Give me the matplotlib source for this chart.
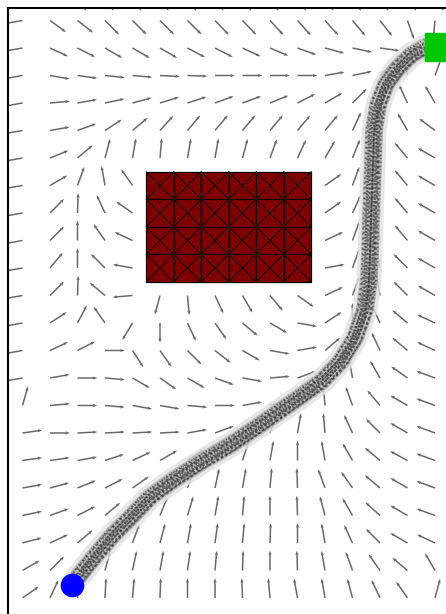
import numpy as np
import matplotlib
matplotlib.use('Agg')
import matplotlib.pyplot as plt
from matplotlib.patches import Rectangle
from matplotlib.transforms import offset_copy

# grid of the potential field (columns left->right, rows top->bottom, row -1 is clipped by the top spine)
col_idx = np.arange(16)
row_idx = np.arange(-1, 22)

# direction of each field arrow in degrees (0 = right, 90 = up), None = cell under the obstacle
field_angles = [
    [180, -40, -65, -65, -65, -65, -65, -65, -65, -65, -65, -65, -65, -65, -65, -65],
    [190, -36, -38, -45, -45, -45, -45, -46, -46, -47, -48, -48, -50, -52, -71, -95],
    [190, -25, -27, -30, -30, -30, -28, -27, -25, -23, -20, -15, -12, -8, 0, 0],
    [190, -10, -8, -6, -5, -3, -2, 0, 0, 0, 0, 10, 12, 45, 100, 70],
    [190, 5, 10, 12, 15, 17, 18, 20, 20, 22, 27, 30, 45, 80, 115, 120],
    [190, 10, 20, 33, 40, 48, 50, 50, 50, 50, 50, 50, 65, 100, 120, 143],
    [190, 22, 40, 75, 80, 85, 80, 80, 75, 70, 65, 60, 68, 100, 130, 150],
    [190, 30, 70, 100, 125, None, None, None, None, None, None, 35, 70, 100, 130, 150],
    [190, 45, 88, 115, 145, None, None, None, None, None, None, 35, 65, 100, 130, 150],
    [190, 45, 90, 125, 155, None, None, None, None, None, None, 25, 70, 100, 130, 150],
    [190, 50, 90, 135, 170, None, None, None, None, None, None, 10, 70, 100, 135, 150],
    [190, 45, 88, 140, 185, -105, -85, -65, -60, -50, -35, 25, 70, 100, 135, 150],
    [190, 33, 62, 125, 239, -90, -65, -55, -40, -30, -10, 33, 90, 115, 140, 155],
    [190, 25, 27, 0, -57, -55, -45, -38, -30, -10, 10, 40, 100, 115, 140, 155],
    [190, 10, 0, -5, -30, -35, -30, -20, -10, 5, 20, 60, 100, 120, 145, 160],
    [74, 5, 0, -5, -10, -10, -5, 0, 10, 20, 40, 95, 110, 130, 150, 160],
    [8, 0, 3, 3, 3, 3, 10, 20, 40, 70, 80, 95, 115, 135, 150, 160],
    [8, 8, 10, 18, 25, 30, 35, 50, 72, 80, 90, 100, 120, 140, 152, 160],
    [10, 15, 22, 27, 35, 50, 70, 78, 80, 85, 92, 110, 125, 140, 150, 160],
    [12, 20, 27, 40, 55, 68, 73, 80, 85, 90, 92, 105, 120, 138, 150, 160],
    [15, 25, 40, 55, 70, 75, 80, 82, 85, 88, 90, 100, 115, 135, 150, 155],
    [30, 45, 60, 75, 78, 80, 82, 85, 88, 90, 92, 100, 110, 125, 140, 120],
    [35, 65, 85, 87, 85, 88, 90, 90, 92, 95, 100, 100, 105, 115, 125, 75],
]

# obstacle cells
obstacle_cols = [5, 6, 7, 8, 9, 10]
obstacle_rows = [6, 7, 8, 9]

# planned path (grid units)
path_x = [2.02, 2.64, 3.25, 3.91, 4.64, 5.55, 6.56, 7.55, 8.53, 9.36, 10.09, 10.89, 11.55,
          12.09, 12.45, 12.60, 12.64, 12.67, 12.71, 12.75, 12.78, 12.93, 13.22, 13.65, 14.13, 14.64]
path_y = [20.24, 19.47, 18.75, 18.09, 17.33, 16.67, 16.02, 15.44, 14.78, 14.20, 13.69, 13.11, 12.42,
          11.55, 10.53, 9.44, 8.35, 7.26, 6.16, 5.07, 3.98, 3.07, 2.31, 1.73, 1.26, 0.96]

start_xy = (1.80, 20.53)
goal_xy = (15.15, 0.96)

# figure: only the top-left part of the axes is visible
fig = plt.figure(figsize=(4.46, 6.14), dpi=100)
ax = fig.add_axes([8 / 446, 1 - 634 / 614, 458 / 446, 626 / 614])
ax.set_xlim(-0.527, 16.127)
ax.set_ylim(22.31, -0.4545)
ax.set_xticks([])
ax.set_yticks([])
for s in ax.spines.values():
    s.set_linewidth(1.5)

# field arrows
ang = np.radians(np.array(field_angles, dtype=float))
X, Y = np.meshgrid(col_idx, row_idx)
U = np.ma.masked_invalid(np.cos(ang))
V = np.ma.masked_invalid(-np.sin(ang))
ax.quiver(X, Y, U, V, angles='xy', scale_units='xy', scale=1 / 0.72, pivot='tail',
          units='dots', width=1.5, headwidth=2.2, headlength=3, headaxislength=2.6,
          color='0.3', alpha=0.85, zorder=1)

# path band: soft halo plus a speckled core made of shifted dashed strokes
ax.plot(path_x, path_y, color='0.88', lw=18, alpha=0.8, solid_capstyle='round',
        solid_joinstyle='round', zorder=2)
ax.plot(path_x, path_y, color='0.65', lw=13, alpha=0.6, solid_capstyle='round',
        solid_joinstyle='round', zorder=2)
shifts = [(-5.5, 0), (5.5, 0), (0, -5.5), (0, 5.5), (-3.5, -3.5), (3.5, 3.5), (-3.5, 3.5), (3.5, -3.5),
          (0, 0), (-1.5, 1.5), (1.5, -1.5), (-4.5, 2), (4.5, -2), (-2, -4.5), (2, 4.5),
          (-2.5, 0), (2.5, 0), (0, 2.5), (0, -2.5)]
patterns = [(1, 1.6), (0.7, 1.2), (1.4, 0.9), (0.5, 1.5), (0.9, 0.7), (1.2, 1.8), (0.6, 0.9),
            (1.5, 1.1), (0.8, 0.6), (1.1, 1.3), (0.6, 1.7), (0.9, 2.0), (1.3, 1.5), (0.7, 1.4),
            (1.0, 0.8), (0.8, 1.1), (1.2, 0.7), (0.5, 1.0), (1.4, 1.6)]
for (ox, oy), dsh in zip(shifts, patterns):
    tr = offset_copy(ax.transData, fig=fig, x=ox, y=oy, units='points')
    ax.plot(path_x, path_y, color='0.15', lw=1.4, alpha=0.5, dashes=dsh, transform=tr, zorder=2)

# obstacle
for c in obstacle_cols:
    for r in obstacle_rows:
        ax.add_patch(Rectangle((c - 0.5, r - 0.5), 1, 1, facecolor='#7f0000',
                               edgecolor='black', lw=0.9, zorder=3))
        ax.plot([c - 0.5, c + 0.5], [r - 0.5, r + 0.5], color='black', lw=0.6, zorder=4)
        ax.plot([c - 0.5, c + 0.5], [r + 0.5, r - 0.5], color='black', lw=0.6, zorder=4)

# start and goal
ax.plot(start_xy[0], start_xy[1], 'o', color='#0000ff', markersize=16, zorder=5)
ax.plot(goal_xy[0], goal_xy[1], 's', color='#00c800', markersize=20, zorder=5)

fig.savefig('out.png', dpi=100)
